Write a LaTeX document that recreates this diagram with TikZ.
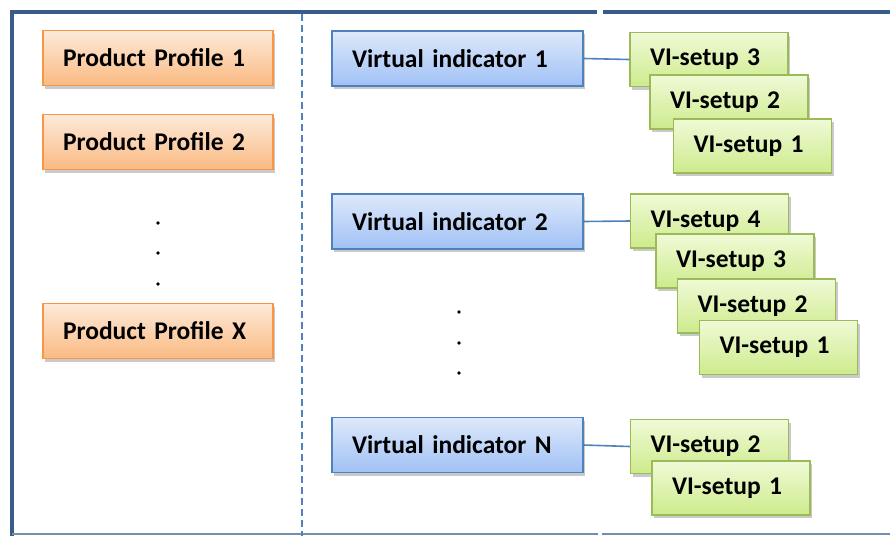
\documentclass[tikz,border=0pt]{standalone}
\usepackage{fontspec}
\setmainfont{Carlito}
\usetikzlibrary{shadows}
\definecolor{frameblue}{RGB}{56,93,138}
\definecolor{lineblue}{RGB}{79,129,189}
\definecolor{orangeedge}{RGB}{247,150,70}
\definecolor{orangetop}{RGB}{253,234,218}
\definecolor{orangebot}{RGB}{250,186,130}
\definecolor{blueedge}{RGB}{79,129,189}
\definecolor{bluetop}{RGB}{222,233,250}
\definecolor{bluebot}{RGB}{160,193,245}
\definecolor{greenedge}{RGB}{155,187,89}
\definecolor{greentop}{RGB}{240,250,215}
\definecolor{greenbot}{RGB}{205,235,140}
\DeclareRobustCommand\boxfont{\bfseries\fontsize{25.5}{28}\selectfont\spaceskip=0.17em\relax}
\begin{document}
\begin{tikzpicture}[x=1pt,y=-1pt,
    box/.style={line width=1.3pt, inner xsep=20pt, align=left, font=\boxfont,
      drop shadow={shadow xshift=2pt, shadow yshift=-3pt, opacity=0.35, fill=black!60}},
    profile/.style={box, draw=orangeedge, top color=orangetop, bottom color=orangebot,
      text width=190pt, minimum height=55pt},
    virtual/.style={box, draw=blueedge, top color=bluetop, bottom color=bluebot,
      text width=211pt, minimum height=55pt},
    visetup/.style={box, draw=greenedge, top color=greentop, bottom color=greenbot,
      text width=118pt, minimum height=54pt},
    link/.style={lineblue, line width=1.6pt},
    dot/.style={circle, fill=black, inner sep=0pt, minimum size=3.6pt}]
  \useasboundingbox (0,0) rectangle (890,536);
  % frame
  \draw[frameblue, line width=4pt] (12,536) -- (12,12) -- (597,12);
  \draw[frameblue, line width=4pt] (603,12) -- (890,12);
  \draw[frameblue!70, line width=2pt] (12,534) -- (598,534);
  \draw[frameblue!70, line width=2pt] (602,534) -- (890,534);
  \draw[lineblue, line width=1.6pt, dash pattern=on 7pt off 4pt] (302,14) -- (302,536);

  % product profiles
  \node[profile] (pp1) at (158,58) {Product Profile 1};
  \node[profile] (pp2) at (158,142) {Product Profile 2};
  \node[dot] (ppd1) at (158,223) {};
  \node[dot] (ppd2) at (158,253) {};
  \node[dot] (ppd3) at (158,284) {};
  \node[profile] (ppx) at (158,331) {Product Profile X};

  % virtual indicators
  \node[virtual] (vi1) at (457.5,58.5) {Virtual indicator 1};
  \node[virtual] (vi2) at (457.5,221.5) {Virtual indicator 2};
  \node[dot] (vid1) at (459,312) {};
  \node[dot] (vid2) at (459,343) {};
  \node[dot] (vid3) at (459,373) {};
  \node[virtual] (vin) at (457.5,445) {Virtual indicator N};

  % setups of indicator 1
  \node[visetup] (s13) at (709,59.5) {VI-setup 3};
  \node[visetup] (s12) at (729,102) {VI-setup 2};
  \node[visetup] (s11) at (752.5,146) {VI-setup 1};
  \draw[link] (vi1.east) -- (s13.west);

  % setups of indicator 2
  \node[visetup] (s24) at (709.5,221) {VI-setup 4};
  \node[visetup] (s23) at (735,261) {VI-setup 3};
  \node[visetup] (s22) at (756.5,306) {VI-setup 2};
  \node[visetup] (s21) at (778.5,347.5) {VI-setup 1};
  \draw[link] (vi2.east) -- (s24.west);

  % setups of indicator N
  \node[visetup] (sn2) at (709.5,446.5) {VI-setup 2};
  \node[visetup] (sn1) at (731,488) {VI-setup 1};
  \draw[link] (vin.east) -- (sn2.west);
\end{tikzpicture}
\end{document}
